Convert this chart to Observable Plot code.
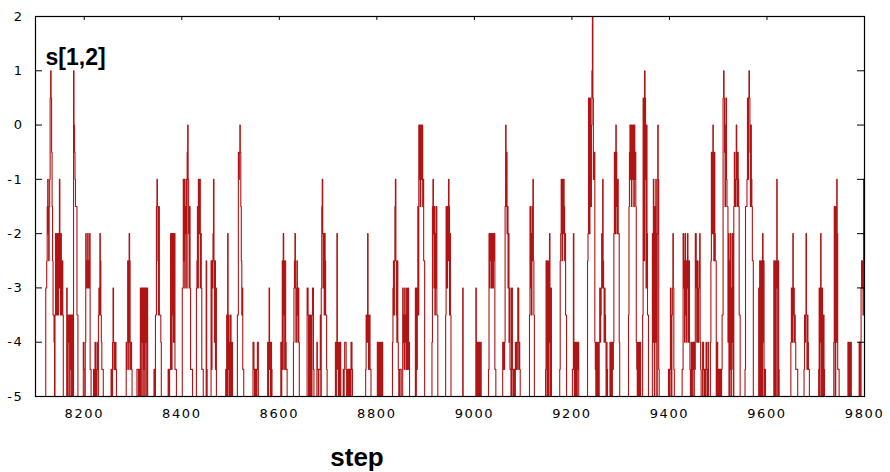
<!DOCTYPE html>
<html><head><meta charset="utf-8">
<script src="https://cdn.jsdelivr.net/npm/d3@7"></script>
<script src="https://cdn.jsdelivr.net/npm/@observablehq/plot@0.6"></script>
<style>
body{margin:0;background:#fff;}
#chart svg{display:block;}
#chart g[aria-label$="tick label"] text{letter-spacing:1.6px;}
</style></head><body><div id="chart"></div>
<script>
const xTicks = [8200, 8400, 8600, 8800, 9000, 9200, 9400, 9600, 9800];
const yTicks = [-5, -4, -3, -2, -1, 0, 1, 2];
const seriesLabel = "s[1,2]";
const xLabel = "step";
const startStep = 8100;
const startValue = -5;

// each burst: [first step, values of consecutive steps]
const burstsA = [
  [8121, [-3,-3,-2.5,-1.5,-1,-2,-2.5,-1.5,-1,0.5,1,0.5,-0.5,-1.5,-2.5,-3.5,-3.5,-4,-5,-3.5,-2,-3,-3.5,-2,-2.5,-3.5,-2,-3,-1,-2,-3.5,-2,-3,-3.5,-2.5,-3.5,-5]],
  [8164, [-3,-3.5,-5,-3.5,-4,-3.5,-5,-3.5,-4.5,-3.5,-5,-3.5,-3.5,-5,1,0,-0.5,-1,-1.5,-1.5,-1.5,-3.5,-3.5,-5]],
  [8198, [-4,-4.5,-4.5,-5,-4,-2,-3,-2.5,-3,-2,-3,-2.5,-3,-2,-4.5,-4.5,-5]],
  [8219, [-4.5,-4.5,-5,-4,-4.5,-5,-4.5,-4,-4.5,-5,-3.5,-3,-3.5,-2,-2.5,-3.5,-4,-4.5,-4.5,-4.5,-5]],
  [8255, [-4.5,-4.5,-5,-4,-3,-4,-4.5,-4,-4.5,-4,-4.5,-5]],
  [8286, [-4,-4.5,-4,-2.5,-4,-4.5,-2,-2.5,-4,-4.5,-4,-4.5,-5]],
  [8308, [-4.5,-4.5,-4.5,-5,-4.5,-4.5,-5,-3,-5,-3,-4,-3,-5,-3,-4.5,-3,-5,-3,-4,-3,-5,-3,-5]],
  [8343, [-4.5,-4.5,-5,-3.5,-3.5,-1.5,-1,-1.5,-2.5,-3.5,-1.5,-3.5,-3.5,-3.5,-4,-5]],
  [8372, [-4.5,-4.5,-5,-4.5,-4.5,-2,-3,-4.5,-2,-3.5,-2,-4,-2.5,-2,-4.5,-4.5,-4.5,-5]],
  [8401, [-3,-3,-1,-2.5,-1,-3,-1.5,-2,-1,-3,-0.5,0,-1,-2,-3,-1.5,-3,-4.5,-4.5,-4.5,-4.5,-5]],
  [8430, [-3,-2.5,-1.5,-3,-1,-2,-1.5,-1,-3,-2,-3,-4.5,-4.5,-4.5,-5]],
  [8450, [-2.5,-4.5,-5]],
  [8460, [-2.5,-4.5,-2.5,-3,-2,-1,-2.5,-4,-2.5,-4.5,-3,-5]],
  [8490, [-4.5,-5,-3.5,-5,-2,-4.5,-3.5,-5,-4,-5,-3.5,-4.5,-5,-4,-5]],
  [8514, [-3.5,-3.5,-0.5,-1,-0.5,0,-0.5,-1.5,-2.5,-3.5,-3,-4.5,-4.5,-5]],
  [8546, [-4,-4,-4.5,-5,-4.5,-5,-4.5,-5,-4.5,-4,-4,-5]],
  [8576, [-4,-5,-4,-3,-4.5,-4,-5,-4,-4.5,-5]],
  [8603, [-4,-5,-4,-2.5,-4.5,-2,-2.5,-3.5,-4.5,-2.5,-4,-4.5,-4.5,-5]],
  [8629, [-4,-3,-2.5,-2,-3,-4,-3,-2.5,-3.5,-4,-3,-4,-5]]
];
const burstsB = [
  [8657, [-3,-3,-3.5,-5,-3.5,-4.5,-5,-3.5,-4,-5,-3.5,-3,-3,-4.5,-5]],
  [8677, [-4,-4.5,-4.5,-5,-4.5,-4.5,-4.5,-3.5,-5,-3,-1.5,-1,-2,-3,-2,-3.5,-2,-2.5,-3.5,-3.5,-4.5,-5]],
  [8715, [-4,-5,-4.5,-2,-4,-4.5,-5,-4,-4.5,-5,-4,-5]],
  [8731, [-4.5,-5,-4.5,-4,-4,-4,-4.5,-5,-4.5,-5,-5,-4.5,-5,-4.5,-4.5,-5,-4,-4,-4.5,-5]],
  [8777, [-4.5,-3.5,-3.5,-4,-2,-3.5,-4.5,-4,-3.5,-4.5,-4.5,-5]],
  [8801, [-4,-5,-4,-4.5,-5,-4,-5,-4.5,-4,-5,-4,-5]],
  [8832, [-4,-3,-2.5,-3.5,-2.5,-1.5,-1,-2.5,-3.5,-4,-2.5,-4,-4.5,-5,-5,-4.5,-4.5,-4.5,-5,-5,-5,-3,-4,-3.5,-4.5,-3,-4,-3.5,-4.5,-3,-4.5,-3.5,-3,-4.5,-4,-5]],
  [8879, [-3,-5,-3,-4.5,-3,-1.5,-3.5,0,-1,0,-1.5,0,-0.5,-1,0,-1.5,-1,-2.5,-2.5,-5]],
  [8913, [-4,-1.5,-1,-2,-3,-1.5,-3.5,-2,-3,-1.5,-3.5,-3.5,-5]],
  [8941, [-3.5,-1.5,-2,-3,-1.5,-2.5,-1,-1.5,-3.5,-2,-3.5,-5]],
  [8976, [-3,-5]],
  [9003, [-3,-5,-4,-5,-4,-4.5,-5,-4,-5,-4.5,-4,-5]],
  [9029, [-4.5,-2,-3,-2,-2.5,-2,-3,-2,-2.5,-3,-2,-2.5,-2,-4.5,-4.5,-5]],
  [9058, [-4,-4.5,-4,-4.5,-4,-1.5,0,-1.5,-0.5,-2,-1.5,-3,-2,-4,-3,-4.5,-4.5,-5,-3,-3,-4.5,-5,-4.5,-5,-4.5,-5,-4,-4.5,-4,-4.5,-4,-3,-3,-4.5,-4,-4.5,-5]],
  [9113, [-3.5,-1.5,-3,-2,-3.5,-1.5,-2.5,-1,-2.5,-3.5,-5]],
  [9146, [-4.5,-2.5,-4,-5,-2.5,-3.5,-5,-2.5,-2,-4,-5,-3,-5]],
  [9175, [-4.5,-2.5,-2,-1,-1.5,-2.5,-1,-2,-1,-1.5,-2.5,-2,-3.5,-3.5,-5]]
];
const burstsC = [
  [9201, [-4.5,-4.5,-2,-4,-5,-4,-4.5,-5,-4,-5,-4,-4.5,-4,-5]],
  [9232, [-2.5,-2,0.5,-1,-2,0.5,-0.5,-1.5,0,1,2,0.5,-1,-0.5,-0.5,-4,-4.5,-5,-4,-4.5,-5,-4,-4.5,-5,-4,-3,-4,-3.5,-3,-2,-3,-1,-2.5,-3,-4,-3,-3.5,-4,-5,-4,-4.5,-5]],
  [9278, [-4,-5,-4,-4.5,-5,-4,-4.5,-4,-2,-0.5,-1,-2,0,-0.5,-1.5,-2,-1,-2,-2,-4,-5]],
  [9316, [-3.5,-1.5,-0.5,0,-1,0,-1.5,0,-0.5,-1,0,-1.5,0,-1,-0.5,-1.5,-4,-4.5,-5,-4,-5,-4.5,-4,-5,-4,-5]],
  [9345, [-3.5,0.5,-1,-2.5,1,0.5,-1,-3,0,-2,-3.5,-3.5,-5]],
  [9365, [-2,-4,-1,-3,-5,-1.5,-4,-1,-3.5,-5,-2,0,-1,-4.5,-5]],
  [9398, [-4.5,-4.5,-5,-4.5,-3,-4,-5,-3.5,-3,-2,-3,-4.5,-5]],
  [9426, [-4.5,-4.5,-2,-3,-2.5,-4,-2,-3.5,-2.5,-4,-3,-2,-3,-4,-2.5,-4,-4.5,-5,-4.5,-4,-5,-4,-4.5,-4,-5,-4,-4.5,-2,-2,-3,-4,-2.5,-3.5,-4,-3,-2.5,-2,-4,-4.5,-5]],
  [9468, [-4,-4,-4.5,-5,-4.5,-5,-4.5,-4,-4.5,-5,-4.5,-4,-5]],
  [9484, [-4,-2.5,-0.5,-1.5,-2,0,-1,-2.5,-0.5,-2,-2.5,-2.5,-5]],
  [9498, [-4,-4.5,-5,-4.5,-5,-4.5,-5,-4.5,-5,-4.5,-3.5,-3.5,0.5,1,0.5,-0.5,-1.5,0,0.5,-1,-1.5,-1.5,-4,-2,-5,-2.5,-4.5,-2,-5,-3,-4,-2,-4.5,-5,-1.5,-0.5,-1,-1.5,-1,0,-0.5,-1.5,-0.5,-1,-1.5,-3.5,-3.5,-5]],
  [9555, [-4.5,-1.5,-1.5,-1.5,-1,0.5,-1,0.5,1,0.5,-0.5,-1.5,0,-1,-1.5,-2.5,-2.5,-5]],
  [9583, [-3,-5,-2.5,-4,-5,-2.5,-3.5,-5,-2,-4,-2.5,-5,-4.5,-4.5,-5]],
  [9614, [-2.5,-5,-2.5,-4,-5,-2.5,-1,-3,-5,-2.5,-4.5,-5]],
  [9649, [-4,-3,-3.5,-4,-2,-3.5,-3,-4,-3.5,-4,-4.5,-4.5,-4.5,-4.5,-5]],
  [9676, [-4.5,-3.5,-4,-3.5,-2,-3.5,-4.5,-3.5,-4,-4.5,-4.5,-5]],
  [9706, [-4.5,-3,-5,-3,-2,-4,-5,-3,-4,-5,-3.5,-4.5,-5]],
  [9737, [-4,-1.5,-3,-5,-1.5,-4,-1,-2,-4.5,-4.5,-4.5,-5]],
  [9766, [-4,-5,-4,-4.5,-5,-4,-4,-5]],
  [9789, [-4,-5,-4,-5,-3,-2.5,-3,-2.5,-3.5,-1,-2.5,-1]]
];

const points = [{step: startStep, value: startValue}];
for (const [start, vals] of [...burstsA, ...burstsB, ...burstsC]) {
  vals.forEach((v, i) => points.push({step: start + i, value: v}));
}
points.sort((a, b) => a.step - b.step);

const W = 890, H = 472, ML = 35, MR = 26, MT = 16, MB = 76;
const innerW = W - ML - MR, innerH = H - MT - MB;

const chart = Plot.plot({
  width: W, height: H,
  marginLeft: ML, marginRight: MR, marginTop: MT, marginBottom: MB,
  style: {background: "#fff", color: "#000", fontFamily: "'DejaVu Sans', sans-serif", fontSize: "13px", overflow: "visible"},
  x: {domain: [8100, 9800], ticks: xTicks, tickFormat: d => String(d), tickSize: 0, tickPadding: 12, label: null},
  y: {domain: [-5, 2], ticks: yTicks, tickFormat: d => String(d), tickSize: 0, tickPadding: 12, label: null},
  marks: [
    Plot.line(points, {x: "step", y: "value", curve: "step-after", stroke: "#b01414", strokeWidth: 1.1}),
    Plot.tickY(yTicks, {y: d => d, insetRight: innerW - 7, stroke: "#000"}),
    Plot.tickY(yTicks, {y: d => d, insetLeft: innerW - 7, stroke: "#000"}),
    Plot.tickX(xTicks, {x: d => d, insetBottom: innerH - 4, stroke: "#000"}),
    Plot.frame({stroke: "#000", strokeWidth: 1.2}),
    Plot.text([seriesLabel], {text: d => d, frameAnchor: "top-left", textAnchor: "start", lineAnchor: "bottom", dx: 10, dy: 48, fontSize: 23, fontWeight: "bold", fontFamily: "'Liberation Sans', Arial, sans-serif", fill: "#000"}),
    Plot.text([xLabel], {text: d => d, frameAnchor: "bottom", textAnchor: "middle", lineAnchor: "bottom", dx: -93, dy: 69, fontSize: 26, fontWeight: "bold", fontFamily: "'Liberation Sans Narrow', 'Liberation Sans', Arial, sans-serif", fill: "#000"})
  ]
});
document.getElementById("chart").appendChild(chart);
</script>
</body></html>
